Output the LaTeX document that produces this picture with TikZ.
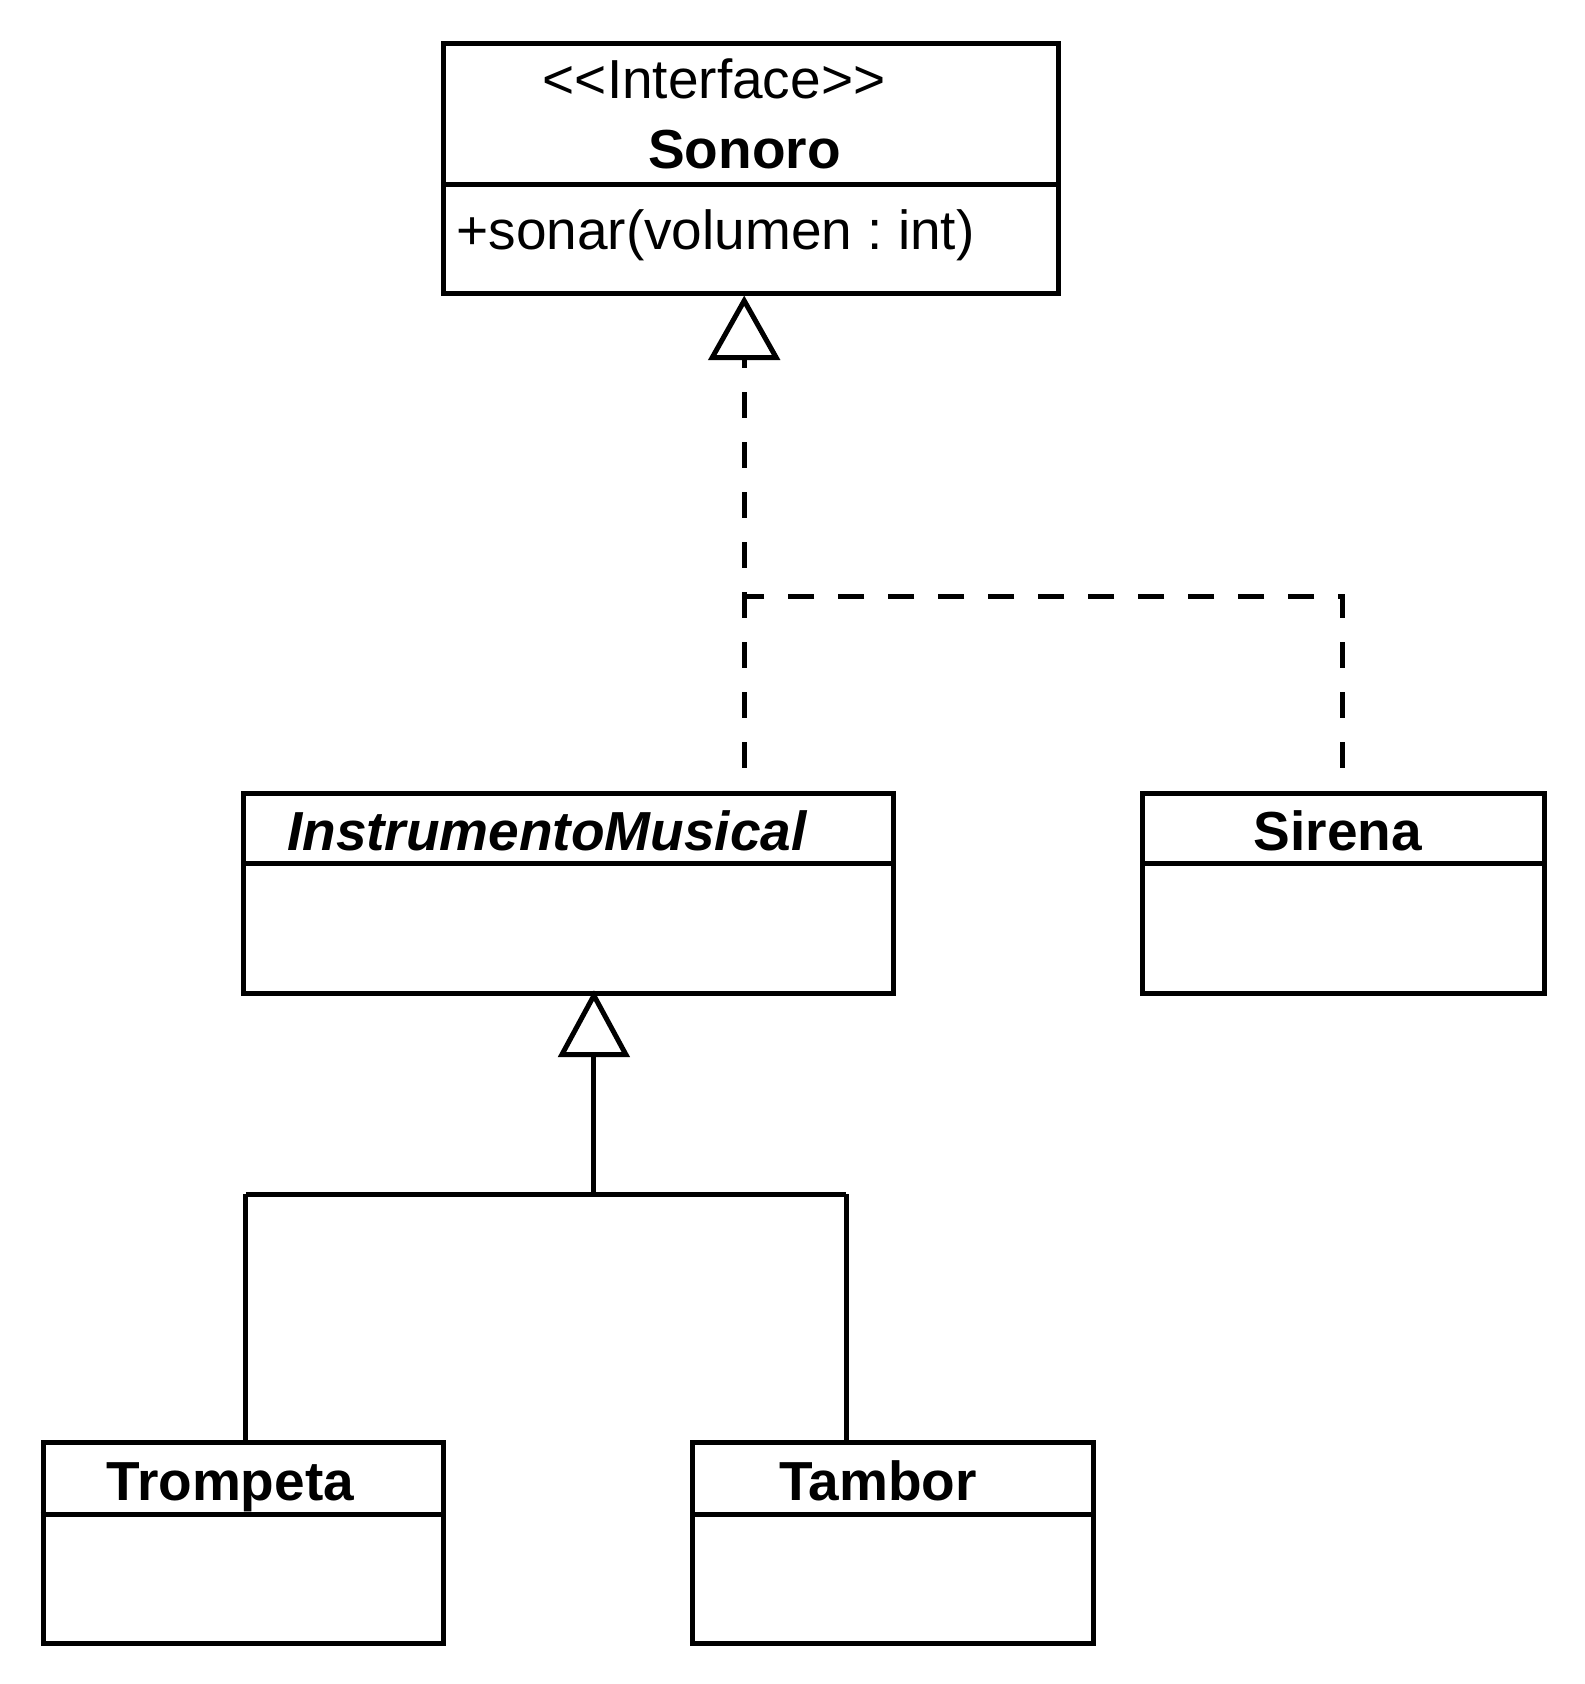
\documentclass[tikz,border=0pt]{standalone}
\usepackage{fontspec}
\setmainfont{Liberation Sans}
\begin{document}
\frenchspacing
\begin{tikzpicture}[x=0.5pt,y=-0.5pt,
  line width=2.5pt,
  classbox/.style={draw,rectangle,inner sep=0pt,line join=miter},
  txt/.style={inner sep=0pt,font=\fontsize{27.5}{30}\selectfont},
  btxt/.style={inner sep=0pt,font=\fontsize{27.5}{30}\selectfont\bfseries},
  realize/.style={dash pattern=on 13pt off 12pt},
  tri/.style={draw,fill=white,line join=miter}]
\useasboundingbox (0,0) rectangle (1584,1684);
% boxes
\node[classbox,minimum width=307.7pt,minimum height=125pt] (sonoro) at (751.2,168.1) {};
\node[classbox,minimum width=324.9pt,minimum height=99.9pt] (instr) at (568.6,893.5) {};
\node[classbox,minimum width=200.8pt,minimum height=99.9pt] (sirena) at (1343.4,893.5) {};
\node[classbox,minimum width=200.2pt,minimum height=100.4pt] (trompeta) at (243.2,1542.6) {};
\node[classbox,minimum width=200.2pt,minimum height=100.4pt] (tambor) at (893.0,1542.6) {};
% dividers
\draw (sonoro.west |- 0,184.7) -- (sonoro.east |- 0,184.7);
\draw (instr.west |- 0,863.4) -- (instr.east |- 0,863.4);
\draw (sirena.west |- 0,863.4) -- (sirena.east |- 0,863.4);
\draw (trompeta.west |- 0,1514.2) -- (trompeta.east |- 0,1514.2);
\draw (tambor.west |- 0,1514.2) -- (tambor.east |- 0,1514.2);
% texts
\node[txt,anchor=base] (ster) at (714,99) {<\kern0pt<Interface>\kern0pt>};
\node[btxt,anchor=base] (sonorot) at (744.5,168.6) {Sonoro};
\node[txt,anchor=base west] (sonar) at (454,250) {+sonar(volumen : int)};
\node[btxt,anchor=base west] (instrt) at (284.6,850.5) {\itshape InstrumentoMusical};
\node[btxt,anchor=base] (sirenat) at (1338,850.5) {Sirena};
\node[btxt,anchor=base west] (trompt) at (104,1500) {Trompeta};
\node[btxt,anchor=base] (tambt) at (878,1500) {Tambor};
% realization
\coordinate (t1tip) at (744.2,300.7);
\coordinate (t1base) at (744.2,357.6);
\coordinate (j1) at (744.2,596);
\coordinate (j2) at (1342.4,596);
\coordinate (iend) at (744.2,767.8);
\coordinate (send) at (1342.4,767.8);
\draw[realize] (iend) -- (j1) -- (t1base);
\draw[realize] (send) -- (j2) -- (j1);
\draw[tri] (t1tip) -- ([xshift=16pt]t1base) -- ([xshift=-16pt]t1base) -- cycle;
% generalization
\coordinate (t2tip) at (593.9,995.5);
\coordinate (t2base) at (593.9,1054.6);
\coordinate (j3) at (593.9,1194.2);
\coordinate (jl) at (245.9,1194.2);
\coordinate (jr) at (846.2,1194.2);
\draw (t2base) -- (j3);
\draw (jl) -- (jr);
\draw (jl) -- (jl |- trompeta.north);
\draw (jr) -- (jr |- tambor.north);
\draw[tri] (t2tip) -- ([xshift=16pt]t2base) -- ([xshift=-16pt]t2base) -- cycle;
\end{tikzpicture}
\end{document}
